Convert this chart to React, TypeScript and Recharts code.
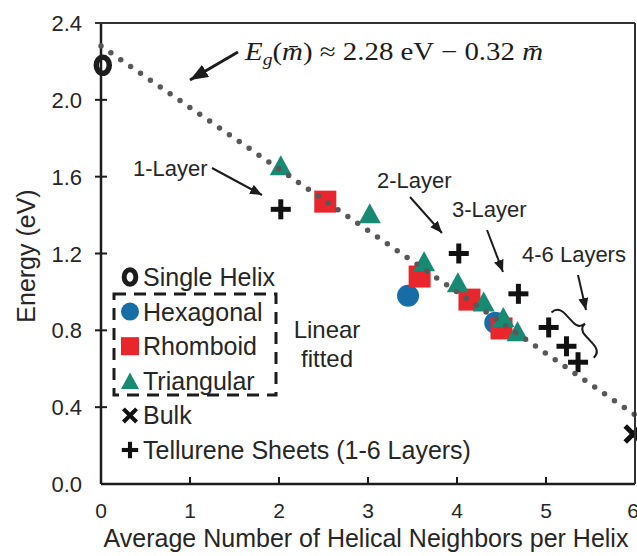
import React from 'react';
import { ScatterChart, Scatter, XAxis, YAxis } from 'recharts';

// values (m = neighbors per helix, e = energy in eV)
const singleHelix = [{ m: 0.02, e: 2.18 }];
const hexagonal = [
  { m: 3.45, e: 0.98 },
  { m: 4.43, e: 0.84 },
];
const rhomboid = [
  { m: 2.52, e: 1.47 },
  { m: 3.58, e: 1.08 },
  { m: 4.14, e: 0.96 },
  { m: 4.5, e: 0.81 },
];
const triangular = [
  { m: 2.02, e: 1.66 },
  { m: 3.02, e: 1.41 },
  { m: 3.63, e: 1.16 },
  { m: 4.01, e: 1.05 },
  { m: 4.3, e: 0.95 },
  { m: 4.52, e: 0.87 },
  { m: 4.68, e: 0.795 },
];
const bulk = [{ m: 5.98, e: 0.26 }];
const tellurene = [
  { m: 2.02, e: 1.43 },
  { m: 4.02, e: 1.2 },
  { m: 4.69, e: 0.99 },
  { m: 5.03, e: 0.815 },
  { m: 5.23, e: 0.717 },
  { m: 5.36, e: 0.634 },
];
// linear fit E = 2.28 - 0.32 m, end points
const fitLine = [
  { m: 0, e: 2.28 },
  { m: 6, e: 0.36 },
];

const xTicks = [0, 1, 2, 3, 4, 5, 6];
const yTicks = [0, 0.4, 0.8, 1.2, 1.6, 2.0, 2.4];

const legendItems = [
  { label: 'Single Helix', kind: 'ring' },
  { label: 'Hexagonal', kind: 'circle' },
  { label: 'Rhomboid', kind: 'square' },
  { label: 'Triangular', kind: 'triangle' },
  { label: 'Bulk', kind: 'cross' },
  { label: 'Tellurene Sheets (1-6 Layers)', kind: 'plus' },
];

const SANS = '"Liberation Sans", Arial, Helvetica, sans-serif';
const SERIF = '"Liberation Serif", "DejaVu Serif", serif';
const INK = '#1c1c1c';
const TXT = '#262626';
const BLUE = '#176ea6';
const RED = '#e8262b';
const GREEN = '#178a74';

const Ring = ({ cx, cy, s = 1 }: any) => (
  <ellipse cx={cx} cy={cy} rx={6.5 * s} ry={8 * s} fill="none" stroke={INK} strokeWidth={5.5 * s} />
);
const Dot = ({ cx, cy, s = 1 }: any) => <circle cx={cx} cy={cy} r={11 * s} fill={BLUE} />;
const Sq = ({ cx, cy, s = 1 }: any) => (
  <rect x={cx - 11 * s} y={cy - 11 * s} width={22 * s} height={22 * s} fill={RED} />
);
const Tri = ({ cx, cy, s = 1 }: any) => (
  <polygon
    points={`${cx},${cy - 10 * s} ${cx + 11 * s},${cy + 10 * s} ${cx - 11 * s},${cy + 10 * s}`}
    fill={GREEN}
  />
);
const Plus = ({ cx, cy, s = 1 }: any) => (
  <g stroke="#111" strokeWidth={5 * s}>
    <line x1={cx - 10 * s} x2={cx + 10 * s} y1={cy} y2={cy} />
    <line x1={cx} x2={cx} y1={cy - 10 * s} y2={cy + 10 * s} />
  </g>
);
const Cross = ({ cx, cy, s = 1 }: any) => (
  <g stroke="#111" strokeWidth={5 * s}>
    <line x1={cx - 8 * s} x2={cx + 8 * s} y1={cy - 8 * s} y2={cy + 8 * s} />
    <line x1={cx - 8 * s} x2={cx + 8 * s} y1={cy + 8 * s} y2={cy - 8 * s} />
  </g>
);

const shapes: any = { ring: Ring, circle: Dot, square: Sq, triangle: Tri, cross: Cross, plus: Plus };

const XTick = ({ x, y, payload }: any) => (
  <g>
    {payload.value > 0 && payload.value < 6 && (
      <line x1={x} x2={x} y1={y - 7} y2={y} stroke={INK} strokeWidth={2} />
    )}
    <text x={x} y={y + 34} textAnchor="middle" fontSize={21} fontFamily={SANS} fill={TXT}>
      {payload.value}
    </text>
  </g>
);

const YTick = ({ x, y, payload }: any) => (
  <g>
    {payload.value > 0 && (
      <line x1={x - 6} x2={x + 6} y1={y} y2={y} stroke={INK} strokeWidth={2} />
    )}
    <text x={x - 19} y={y + 8} textAnchor="end" fontSize={22} fontFamily={SANS} fill={TXT}>
      {payload.value.toFixed(1)}
    </text>
  </g>
);

const Overlay = () => (
  <svg
    width={637}
    height={556}
    style={{ position: 'absolute', left: 0, top: 0, pointerEvents: 'none' }}
  >
    <defs>
      <marker id="ahs" markerWidth={12} markerHeight={10} refX={12} refY={5} orient="auto" markerUnits="userSpaceOnUse">
        <path d="M0,0 L12,5 L0,10 z" fill={INK} />
      </marker>
      <marker id="ahb" markerWidth={18} markerHeight={14} refX={18} refY={7} orient="auto" markerUnits="userSpaceOnUse">
        <path d="M0,0 L18,7 L0,14 z" fill={INK} />
      </marker>
    </defs>

    {/* frame: top and right edges */}
    <line x1={95} x2={635} y1={23} y2={23} stroke="#333" strokeWidth={2} />
    <line x1={635} x2={635} y1={23} y2={484} stroke="#333" strokeWidth={2} />

    {/* equation */}
    <text x={245} y={60} fontFamily={SERIF} fontSize={25} fill={INK} textLength={298} lengthAdjust="spacingAndGlyphs">
      <tspan fontStyle="italic">E</tspan>
      <tspan fontStyle="italic" fontSize={17} dy={5}>g</tspan>
      <tspan dy={-5}>(</tspan>
      <tspan fontStyle="italic">m&#772;</tspan>
      <tspan>) ≈ 2.28 eV − 0.32 </tspan>
      <tspan fontStyle="italic">m&#772;</tspan>
    </text>
    <line x1={238} y1={52} x2={190} y2={80} stroke={INK} strokeWidth={3} markerEnd="url(#ahb)" />

    {/* layer annotations */}
    <g fontFamily={SANS} fontSize={22} fill={TXT}>
      <text x={133} y={176}>1-Layer</text>
      <text x={377} y={188}>2-Layer</text>
      <text x={452} y={217}>3-Layer</text>
      <text x={522} y={262}>4-6 Layers</text>
    </g>
    <g stroke={INK} strokeWidth={2}>
      <line x1={212} y1={168} x2={262} y2={195} markerEnd="url(#ahs)" />
      <line x1={410} y1={197} x2={442} y2={233} markerEnd="url(#ahs)" />
      <line x1={487} y1={230} x2={503} y2={272} markerEnd="url(#ahs)" />
      <line x1={578} y1={275} x2={586} y2={310} markerEnd="url(#ahs)" />
    </g>
    <path
      d="M -6 -31 Q 3 -31 3 -20 L 3 -9 Q 3 0 11 0 Q 3 0 3 9 L 3 20 Q 3 31 -6 31"
      transform="translate(577 331) rotate(-43)"
      fill="none"
      stroke={INK}
      strokeWidth={2}
    />

    {/* legend */}
    <rect x={114} y={294} width={162} height={101} fill="none" stroke={INK} strokeWidth={3} strokeDasharray="12 8" />
    {legendItems.map((it, i) => {
      const cy = 277 + i * 34.6;
      const Shape = shapes[it.kind];
      return (
        <g key={it.label}>
          <Shape cx={130} cy={cy} s={it.kind === 'ring' ? 0.9 : 0.82} />
          <text x={143} y={cy + 9} fontFamily={SANS} fontSize={25} fill={TXT}>
            {it.label}
          </text>
        </g>
      );
    })}
    <g fontFamily={SANS} fontSize={24} fill={TXT} textAnchor="middle">
      <text x={327} y={338}>Linear</text>
      <text x={327} y={367}>fitted</text>
    </g>

    {/* axis titles */}
    <text
      transform="translate(35 256) rotate(-90)"
      textAnchor="middle"
      fontFamily={SANS}
      fontSize={25}
      fill={TXT}
    >
      Energy (eV)
    </text>
    <text x={366} y={547} textAnchor="middle" fontFamily={SANS} fontSize={25} fill={TXT}>
      Average Number of Helical Neighbors per Helix
    </text>
  </svg>
);

export default function App() {
  return (
    <div style={{ position: 'absolute', left: 0, top: 0, width: 637, height: 556, background: '#fff', fontFamily: SANS }}>
      <ScatterChart width={637} height={556} margin={{ top: 23, right: 2, bottom: 0, left: 0 }}>
        <XAxis
          type="number"
          dataKey="m"
          domain={[0, 6]}
          ticks={xTicks}
          height={72}
          tickSize={0}
          tickMargin={0}
          tickLine={false}
          tick={(p: any) => <XTick {...p} />}
          axisLine={{ stroke: INK, strokeWidth: 2.5 }}
        />
        <YAxis
          type="number"
          dataKey="e"
          domain={[0, 2.4]}
          ticks={yTicks}
          width={101}
          tickSize={0}
          tickMargin={0}
          tickLine={false}
          tick={(p: any) => <YTick {...p} />}
          axisLine={{ stroke: INK, strokeWidth: 2.5 }}
        />
        <Scatter data={singleHelix} isAnimationActive={false} shape={(p: any) => <Ring cx={p.cx} cy={p.cy} />} />
        <Scatter data={hexagonal} isAnimationActive={false} shape={(p: any) => <Dot cx={p.cx} cy={p.cy} />} />
        <Scatter data={rhomboid} isAnimationActive={false} shape={(p: any) => <Sq cx={p.cx} cy={p.cy} />} />
        <Scatter data={triangular} isAnimationActive={false} shape={(p: any) => <Tri cx={p.cx} cy={p.cy} />} />
        <Scatter data={bulk} isAnimationActive={false} shape={(p: any) => <Cross cx={p.cx} cy={p.cy} />} />
        <Scatter data={tellurene} isAnimationActive={false} shape={(p: any) => <Plus cx={p.cx} cy={p.cy} />} />
        <Scatter
          data={fitLine}
          isAnimationActive={false}
          fill="#585858"
          line={{ stroke: '#585858', strokeWidth: 5.5, strokeDasharray: '0 12', strokeLinecap: 'round' }}
          shape={() => <g />}
        />
      </ScatterChart>
      <Overlay />
    </div>
  );
}
